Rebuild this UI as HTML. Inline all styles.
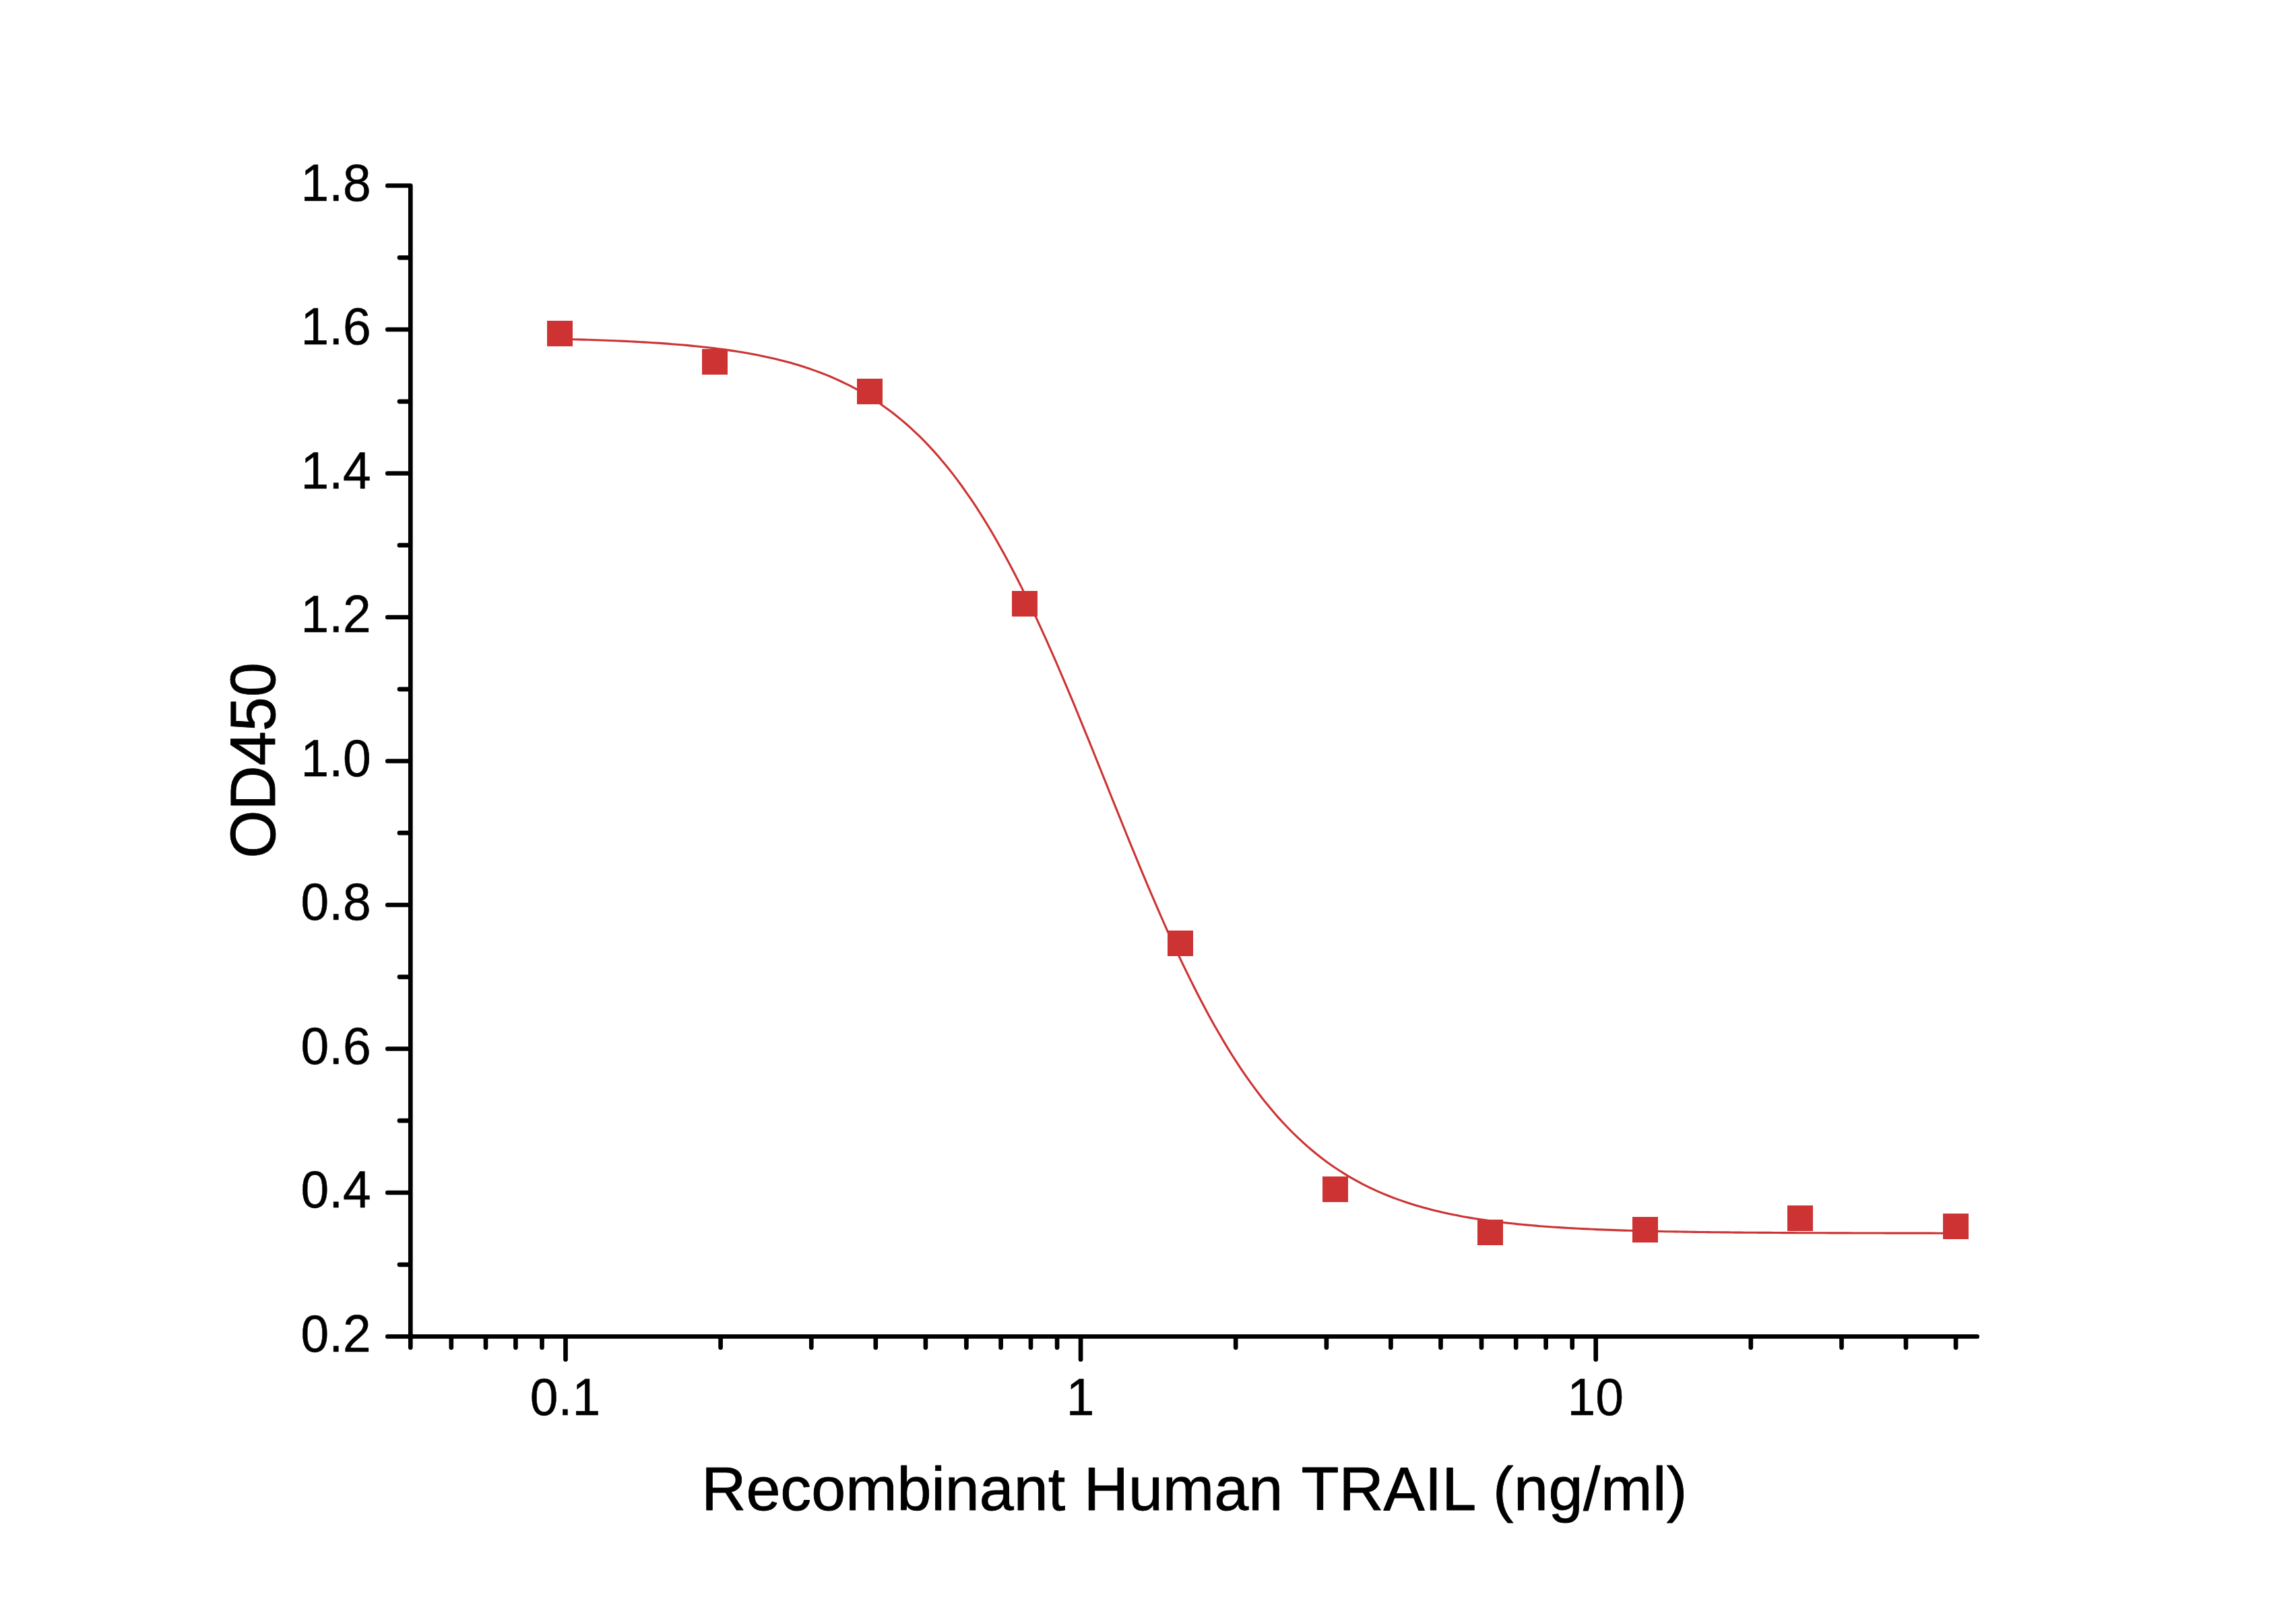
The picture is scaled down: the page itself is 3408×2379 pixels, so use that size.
<!DOCTYPE html>
<html lang="en"><head><meta charset="utf-8"><title>Recombinant Human TRAIL OD450 curve</title>
<style>html,body{margin:0;padding:0;background:#fff}body{width:3408px;height:2379px;overflow:hidden}svg{display:block}text{font-family:"Liberation Sans",sans-serif;fill:#000}.t{font-size:75px;stroke:#000;stroke-width:.5px;stroke-linejoin:round}.l{font-size:91.67px;stroke:#000;stroke-width:.9px;stroke-linejoin:round}</style></head><body>
<svg width="3408" height="2379" viewBox="0 0 3408 2379">
<rect width="3408" height="2379" fill="#fff"/>
<g stroke="#000" stroke-width="6.7" stroke-linecap="round" stroke-linejoin="round" fill="none">
<path d="M575.3 275.5H609.3V1983.5H2934.7"/>
<path d="M593.0 382.3H607.8M575.3 489.0H607.8M593.0 595.8H607.8M575.3 702.5H607.8M593.0 809.2H607.8M575.3 916.0H607.8M593.0 1022.8H607.8M575.3 1129.5H607.8M593.0 1236.2H607.8M575.3 1343.0H607.8M593.0 1449.8H607.8M575.3 1556.5H607.8M593.0 1663.2H607.8M575.3 1770.0H607.8M593.0 1876.8H607.8M575.3 1983.5H607.8M839.5 1985.0V2017.5M1604.1 1985.0V2017.5M2368.7 1985.0V2017.5M609.3 1985.0V1999.8M669.8 1985.0V1999.8M721.0 1985.0V1999.8M765.4 1985.0V1999.8M804.5 1985.0V1999.8M1069.6 1985.0V1999.8M1204.3 1985.0V1999.8M1299.8 1985.0V1999.8M1373.9 1985.0V1999.8M1434.4 1985.0V1999.8M1485.6 1985.0V1999.8M1530.0 1985.0V1999.8M1569.1 1985.0V1999.8M1834.2 1985.0V1999.8M1968.9 1985.0V1999.8M2064.4 1985.0V1999.8M2138.5 1985.0V1999.8M2199.0 1985.0V1999.8M2250.2 1985.0V1999.8M2294.6 1985.0V1999.8M2333.7 1985.0V1999.8M2598.8 1985.0V1999.8M2733.5 1985.0V1999.8M2829.0 1985.0V1999.8M2903.1 1985.0V1999.8"/>
</g>
<polyline points="831.6,503.2 838.5,503.3 845.4,503.5 852.4,503.7 859.3,503.9 866.2,504.1 873.2,504.3 880.1,504.5 887.0,504.7 893.9,505.0 900.9,505.2 907.8,505.5 914.7,505.8 921.7,506.1 928.6,506.4 935.5,506.7 942.4,507.1 949.4,507.5 956.3,507.9 963.2,508.3 970.2,508.7 977.1,509.1 984.0,509.6 990.9,510.1 997.9,510.7 1004.8,511.2 1011.7,511.8 1018.7,512.4 1025.6,513.1 1032.5,513.7 1039.4,514.5 1046.4,515.2 1053.3,516.0 1060.2,516.8 1067.1,517.7 1074.1,518.6 1081.0,519.6 1087.9,520.6 1094.9,521.7 1101.8,522.8 1108.7,524.0 1115.6,525.3 1122.6,526.6 1129.5,528.0 1136.4,529.4 1143.4,530.9 1150.3,532.5 1157.2,534.2 1164.1,536.0 1171.1,537.8 1178.0,539.8 1184.9,541.8 1191.9,544.0 1198.8,546.2 1205.7,548.6 1212.6,551.1 1219.6,553.7 1226.5,556.4 1233.4,559.3 1240.4,562.3 1247.3,565.5 1254.2,568.8 1261.1,572.2 1268.1,575.8 1275.0,579.6 1281.9,583.6 1288.8,587.8 1295.8,592.1 1302.7,596.6 1309.6,601.4 1316.6,606.4 1323.5,611.5 1330.4,617.0 1337.3,622.6 1344.3,628.5 1351.2,634.7 1358.1,641.1 1365.1,647.7 1372.0,654.7 1378.9,661.9 1385.8,669.4 1392.8,677.3 1399.7,685.4 1406.6,693.8 1413.6,702.6 1420.5,711.6 1427.4,721.0 1434.3,730.8 1441.3,740.8 1448.2,751.2 1455.1,762.0 1462.1,773.1 1469.0,784.5 1475.9,796.3 1482.8,808.4 1489.8,820.9 1496.7,833.7 1503.6,846.8 1510.5,860.3 1517.5,874.1 1524.4,888.2 1531.3,902.6 1538.3,917.3 1545.2,932.3 1552.1,947.6 1559.0,963.2 1566.0,978.9 1572.9,995.0 1579.8,1011.2 1586.8,1027.6 1593.7,1044.2 1600.6,1061.0 1607.5,1077.9 1614.5,1094.9 1621.4,1112.0 1628.3,1129.2 1635.3,1146.5 1642.2,1163.7 1649.1,1181.0 1656.0,1198.2 1663.0,1215.4 1669.9,1232.5 1676.8,1249.6 1683.8,1266.5 1690.7,1283.3 1697.6,1299.9 1704.5,1316.4 1711.5,1332.7 1718.4,1348.7 1725.3,1364.5 1732.2,1380.1 1739.2,1395.5 1746.1,1410.5 1753.0,1425.3 1760.0,1439.8 1766.9,1453.9 1773.8,1467.8 1780.7,1481.3 1787.7,1494.5 1794.6,1507.4 1801.5,1519.9 1808.5,1532.1 1815.4,1543.9 1822.3,1555.4 1829.2,1566.5 1836.2,1577.3 1843.1,1587.8 1850.0,1597.9 1857.0,1607.7 1863.9,1617.2 1870.8,1626.3 1877.7,1635.1 1884.7,1643.6 1891.6,1651.8 1898.5,1659.6 1905.5,1667.2 1912.4,1674.5 1919.3,1681.5 1926.2,1688.2 1933.2,1694.7 1940.1,1700.9 1947.0,1706.8 1953.9,1712.5 1960.9,1718.0 1967.8,1723.2 1974.7,1728.2 1981.7,1733.0 1988.6,1737.5 1995.5,1741.9 2002.4,1746.1 2009.4,1750.1 2016.3,1753.9 2023.2,1757.6 2030.2,1761.1 2037.1,1764.4 2044.0,1767.6 2050.9,1770.6 2057.9,1773.5 2064.8,1776.3 2071.7,1778.9 2078.7,1781.4 2085.6,1783.8 2092.5,1786.0 2099.4,1788.2 2106.4,1790.3 2113.3,1792.2 2120.2,1794.1 2127.2,1795.9 2134.1,1797.6 2141.0,1799.2 2147.9,1800.7 2154.9,1802.2 2161.8,1803.6 2168.7,1804.9 2175.6,1806.2 2182.6,1807.4 2189.5,1808.5 2196.4,1809.6 2203.4,1810.6 2210.3,1811.6 2217.2,1812.5 2224.1,1813.4 2231.1,1814.3 2238.0,1815.1 2244.9,1815.8 2251.9,1816.6 2258.8,1817.2 2265.7,1817.9 2272.6,1818.5 2279.6,1819.1 2286.5,1819.7 2293.4,1820.2 2300.4,1820.7 2307.3,1821.2 2314.2,1821.6 2321.1,1822.1 2328.1,1822.5 2335.0,1822.9 2341.9,1823.3 2348.9,1823.6 2355.8,1823.9 2362.7,1824.3 2369.6,1824.6 2376.6,1824.9 2383.5,1825.1 2390.4,1825.4 2397.3,1825.6 2404.3,1825.9 2411.2,1826.1 2418.1,1826.3 2425.1,1826.5 2432.0,1826.7 2438.9,1826.9 2445.8,1827.1 2452.8,1827.2 2459.7,1827.4 2466.6,1827.5 2473.6,1827.7 2480.5,1827.8 2487.4,1827.9 2494.3,1828.0 2501.3,1828.1 2508.2,1828.3 2515.1,1828.4 2522.1,1828.5 2529.0,1828.5 2535.9,1828.6 2542.8,1828.7 2549.8,1828.8 2556.7,1828.9 2563.6,1828.9 2570.6,1829.0 2577.5,1829.1 2584.4,1829.1 2591.3,1829.2 2598.3,1829.3 2605.2,1829.3 2612.1,1829.4 2619.0,1829.4 2626.0,1829.4 2632.9,1829.5 2639.8,1829.5 2646.8,1829.6 2653.7,1829.6 2660.6,1829.6 2667.5,1829.7 2674.5,1829.7 2681.4,1829.7 2688.3,1829.8 2695.3,1829.8 2702.2,1829.8 2709.1,1829.8 2716.0,1829.9 2723.0,1829.9 2729.9,1829.9 2736.8,1829.9 2743.8,1829.9 2750.7,1830.0 2757.6,1830.0 2764.5,1830.0 2771.5,1830.0 2778.4,1830.0 2785.3,1830.0 2792.3,1830.0 2799.2,1830.1 2806.1,1830.1 2813.0,1830.1 2820.0,1830.1 2826.9,1830.1 2833.8,1830.1 2840.7,1830.1 2847.7,1830.1 2854.6,1830.1 2861.5,1830.1 2868.5,1830.1 2875.4,1830.2 2882.3,1830.2 2889.2,1830.2 2896.2,1830.2 2903.1,1830.2" fill="none" stroke="#CD3333" stroke-width="3.1" stroke-linejoin="round"/>
<g fill="#CD3333" shape-rendering="crispEdges">
<rect x="812" y="476" width="38" height="38"/>
<rect x="1042" y="518" width="38" height="38"/>
<rect x="1272" y="562" width="38" height="38"/>
<rect x="1502" y="877" width="38" height="38"/>
<rect x="1733" y="1381" width="38" height="38"/>
<rect x="1963" y="1746" width="38" height="38"/>
<rect x="2193" y="1810" width="38" height="38"/>
<rect x="2423" y="1806" width="38" height="38"/>
<rect x="2653" y="1789" width="38" height="38"/>
<rect x="2884" y="1801" width="38" height="38"/>
</g>
<g class="t" text-anchor="end">
<text transform="translate(550.8 297.9) scale(1 1.025)">1.8</text>
<text transform="translate(550.8 511.4) scale(1 1.025)">1.6</text>
<text transform="translate(550.8 724.9) scale(1 1.025)">1.4</text>
<text transform="translate(550.8 938.4) scale(1 1.025)">1.2</text>
<text transform="translate(550.8 1151.9) scale(1 1.025)">1.0</text>
<text transform="translate(550.8 1365.4) scale(1 1.025)">0.8</text>
<text transform="translate(550.8 1578.9) scale(1 1.025)">0.6</text>
<text transform="translate(550.8 1792.4) scale(1 1.025)">0.4</text>
<text transform="translate(550.8 2005.9) scale(1 1.025)">0.2</text>
</g>
<g class="t" text-anchor="middle">
<text transform="translate(839.0 2100.3) scale(1 1.025)">0.1</text>
<text transform="translate(1603.6 2100.3) scale(1 1.025)">1</text>
<text transform="translate(2368.2 2100.3) scale(1 1.025)">10</text>
</g>
<text class="l" y="2241"><tspan x="1041.2">Recombinant</tspan> <tspan x="1608.7">Human</tspan> <tspan x="1931.4">TRAIL</tspan> <tspan x="2216.1" letter-spacing="0.5">(ng/ml)</tspan></text>
<text class="l" text-anchor="middle" transform="translate(408.3 1128.5) rotate(-90) scale(1 1.035)">OD450</text>
</svg></body></html>
